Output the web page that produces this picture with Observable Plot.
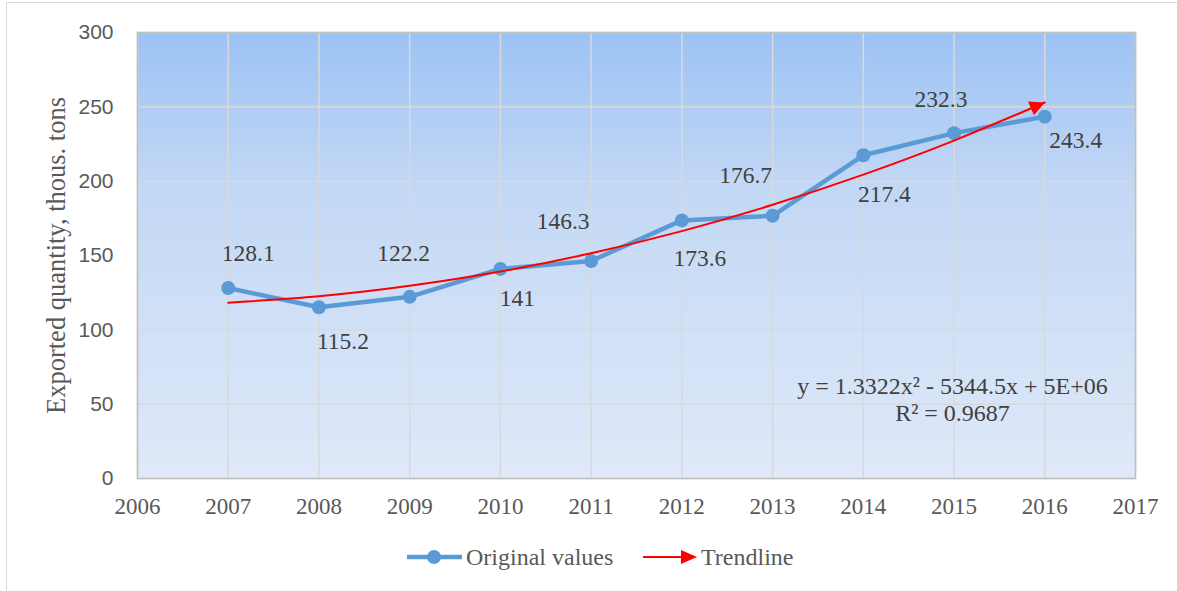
<!DOCTYPE html>
<html>
<head>
<meta charset="utf-8">
<script src="https://cdn.jsdelivr.net/npm/d3@7"></script>
<script src="https://cdn.jsdelivr.net/npm/@observablehq/plot@0.6"></script>
<style>
  html, body { margin: 0; padding: 0; background: #fff; }
  #wrap { position: relative; width: 1177px; height: 591px; overflow: hidden; }
  #border { position: absolute; left: 6px; top: 2px; width: 1300px; height: 700px;
            border-left: 1.5px solid #d9d9d9; border-top: 1.5px solid #d9d9d9; }
  #chart { position: absolute; left: 0; top: 0; }
  .leg { position: absolute; top: 545px; font-family: "Liberation Serif", "Times New Roman", serif;
         font-size: 24px; color: #595959; line-height: 24px; white-space: nowrap; }
  .leg svg { position: absolute; }
</style>
</head>
<body>
<div id="wrap">
  <div id="border"></div>
  <div id="chart"></div>
  <div class="leg" style="left:407px;">
    <svg width="56" height="24" style="left:0;top:0;">
      <line x1="0" y1="12" x2="55" y2="12" stroke="#5b9bd5" stroke-width="4.5"/>
      <circle cx="27" cy="12" r="7" fill="#5b9bd5"/>
    </svg>
    <span style="position:absolute;left:59px;top:0;">Original values</span>
  </div>
  <div class="leg" style="left:643px;">
    <svg width="56" height="24" style="left:0;top:0;">
      <line x1="0" y1="12" x2="40" y2="12" stroke="#ff0000" stroke-width="2"/>
      <path d="M38,5 L54,12 L38,19 Z" fill="#ff0000"/>
    </svg>
    <span style="position:absolute;left:58px;top:0;">Trendline</span>
  </div>
</div>
<script>
// ---- data ----
const years = [2007, 2008, 2009, 2010, 2011, 2012, 2013, 2014, 2015, 2016];
const values = [128.1, 115.2, 122.2, 141, 146.3, 173.6, 176.7, 217.4, 232.3, 243.4];
const trendValues = [118.3, 122.6, 129.6, 139.2, 151.5, 166.4, 184.1, 204.4, 227.3, 252.9];
const xTicks = [2006, 2007, 2008, 2009, 2010, 2011, 2012, 2013, 2014, 2015, 2016, 2017];
const yTicks = [0, 50, 100, 150, 200, 250, 300];
const yLabel = "Exported quantity, thous. tons";
const equationText = "y = 1.3322x\u00b2 - 5344.5x + 5E+06\nR\u00b2 = 0.9687";

// ---- label placement (style only) ----
const labelOffsets = [[20, -35], [24, 34], [-6, -43], [17, 30], [-28, -40],
                      [18, 38], [-27, -40], [21, 39], [-13, -34], [31, 24]];

const data = years.map((year, i) => ({year, value: values[i]}));
const trend = years.map((year, i) => ({year, value: trendValues[i]}));

const serif = "Liberation Serif, Times New Roman, serif";
const sans = "Liberation Sans, Arial, sans-serif";

const labelMarks = data.map((d, i) => Plot.text([d], {
  x: "year", y: "value", text: d => String(d.value),
  dx: labelOffsets[i][0], dy: labelOffsets[i][1],
  fontFamily: serif, fontSize: 23.5, fill: "#404040", textAnchor: "middle"
}));

const plot = Plot.plot({
  width: 1177,
  height: 530,
  marginLeft: 137,
  marginRight: 42,
  marginTop: 32,
  marginBottom: 52,
  style: {background: "transparent", overflow: "visible"},
  x: {type: "linear", domain: [2006, 2017]},
  y: {domain: [0, 300]},
  marks: [
    Plot.frame({fill: "url(#bgGrad)", stroke: "none"}),
    Plot.gridX(xTicks, {stroke: "#d9d9d9", strokeOpacity: 1, strokeWidth: 1.5}),
    Plot.gridY(yTicks, {stroke: "#d9d9d9", strokeOpacity: 1, strokeWidth: 1.5}),
    Plot.frame({stroke: "#bfbfbf", strokeWidth: 1.5}),
    Plot.axisX(xTicks, {tickSize: 0, tickPadding: 19, tickFormat: d => String(d),
      fontSize: 23, fontFamily: serif, fill: "#595959", label: null}),
    Plot.axisY(yTicks, {tickSize: 0, tickPadding: 24, tickFormat: d => String(d),
      fontSize: 21, fontFamily: sans, fill: "#595959", label: null}),
    Plot.text([yLabel], {frameAnchor: "left", text: d => d, rotate: -90, dx: -81,
      fontFamily: serif, fontSize: 26.5, fill: "#595959", textAnchor: "middle", lineAnchor: "middle"}),
    Plot.line(data, {x: "year", y: "value", stroke: "#5b9bd5", strokeWidth: 4.5}),
    Plot.dot(data, {x: "year", y: "value", r: 7, fill: "#5b9bd5", stroke: "none"}),
    Plot.line(trend, {x: "year", y: "value", stroke: "#ff0000", strokeWidth: 2, curve: "natural"}),
    ...labelMarks,
    Plot.text([equationText], {frameAnchor: "bottom-right", text: d => d, dx: -183, dy: -79.5,
      fontFamily: serif, fontSize: 24, fill: "#404040", textAnchor: "middle",
      lineAnchor: "middle", lineHeight: 1.13})
  ]
});

const svg = d3.select(plot);
const defs = svg.insert("defs", ":first-child");
const grad = defs.append("linearGradient").attr("id", "bgGrad")
  .attr("x1", 0).attr("y1", 0).attr("x2", 0).attr("y2", 1);
grad.append("stop").attr("offset", "0%").attr("stop-color", "#9cc2f4");
grad.append("stop").attr("offset", "35%").attr("stop-color", "#c3d8f5");
grad.append("stop").attr("offset", "100%").attr("stop-color", "#dfe9f9");
defs.append("marker").attr("id", "tri")
  .attr("viewBox", "0 0 10 10").attr("refX", 10).attr("refY", 5)
  .attr("markerUnits", "userSpaceOnUse").attr("markerWidth", 17).attr("markerHeight", 15)
  .attr("orient", "auto")
  .append("path").attr("d", "M0,0 L10,5 L0,10 Z").attr("fill", "#ff0000");
svg.selectAll('g[stroke="#ff0000"] path').attr("marker-end", "url(#tri)");

document.getElementById("chart").appendChild(plot);
</script>
</body>
</html>
